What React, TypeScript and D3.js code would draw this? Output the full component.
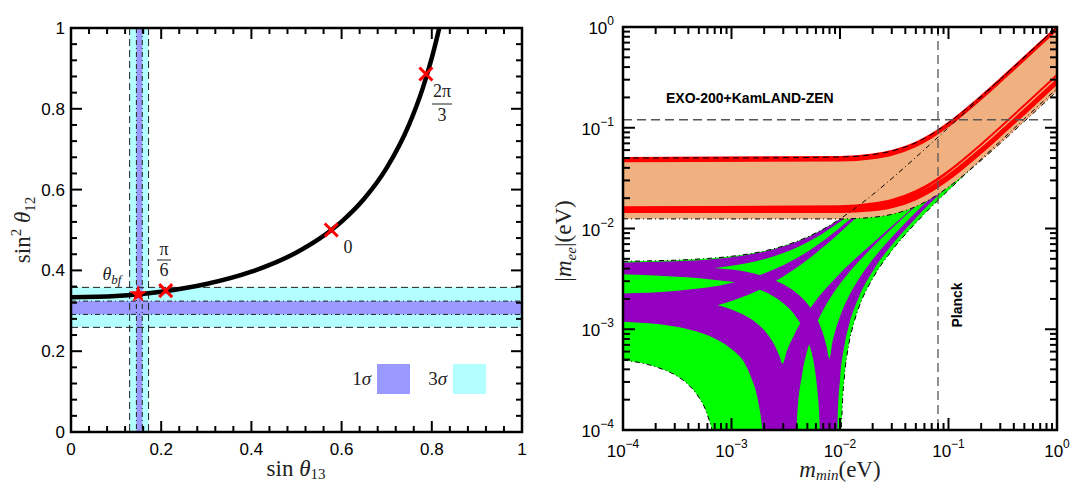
import React from "react";
import * as d3 from "d3";

// ---------------- Left panel data ----------------
const leftTickValues = [0, 0.2, 0.4, 0.6, 0.8, 1];
const leftTickLabels = ["0", "0.2", "0.4", "0.6", "0.8", "1"];
const curveSinT13 = [0, 0.1, 0.2, 0.3, 0.4, 0.5, 0.55, 0.6, 0.65, 0.7, 0.75, 0.78, 0.8, 0.81, 0.817];
const curveSin2T12 = [0.3333, 0.3367, 0.3472, 0.3663, 0.3968, 0.4444, 0.4779, 0.5208, 0.5772, 0.6536, 0.7619, 0.8512, 0.9259, 0.9693, 1.002];
const band13Sigma3 = [0.13, 0.172];
const band13Sigma1 = [0.145, 0.158];
const band12Sigma3 = [0.259, 0.358];
const band12Sigma1 = [0.291, 0.324];
const crossSinT13 = [0.21, 0.577, 0.787];
const crossSin2T12 = [0.35, 0.5, 0.886];
const starPoint = [0.149, 0.341];

// ---------------- Right panel data: [m_min, low, high] (eV) ----------------
const nhAllowed = [
  [1e-4, 4.95e-4, 4.72e-3], [2e-4, 4.24e-4, 4.79e-3], [3e-4, 3.53e-4, 4.85e-3], [4e-4, 2.82e-4, 4.91e-3],
  [5e-4, 2.11e-4, 4.98e-3], [6e-4, 1.41e-4, 5.04e-3], [7e-4, 7.1e-5, 5.11e-3], [7.5e-4, 3.6e-5, 5.14e-3],
  [8e-4, 0, 5.17e-3], [1e-3, 0, 5.3e-3], [2e-3, 0, 5.98e-3], [3e-3, 0, 6.7e-3], [5e-3, 0, 8.23e-3],
  [7e-3, 0, 9.87e-3], [1e-2, 0, 1.246e-2], [1.02e-2, 6.3e-5, 1.264e-2], [1.05e-2, 1.69e-4, 1.29e-2],
  [1.1e-2, 3.45e-4, 1.335e-2], [1.2e-2, 6.87e-4, 1.425e-2], [1.35e-2, 1.18e-3, 1.563e-2],
  [1.5e-2, 1.67e-3, 1.7e-2], [2e-2, 3.19e-3, 2.17e-2], [3e-2, 6.02e-3, 3.13e-2], [5e-2, 1.134e-2, 5.09e-2],
  [7e-2, 1.65e-2, 7.07e-2], [0.1, 2.4e-2, 0.1005], [0.2, 4.88e-2, 0.2003], [0.3, 7.34e-2, 0.3002],
  [0.5, 0.1226, 0.5002], [1, 0.2453, 1.0],
];
const nhBand00 = [
  [1e-4, 3.65e-3, 4.6e-3], [3e-4, 3.78e-3, 4.73e-3], [1e-3, 4.26e-3, 5.19e-3], [2e-3, 4.96e-3, 5.88e-3],
  [3e-3, 5.71e-3, 6.61e-3], [4e-3, 6.49e-3, 7.37e-3], [5e-3, 7.3e-3, 8.16e-3], [6e-3, 8.14e-3, 8.97e-3],
  [7e-3, 8.99e-3, 9.81e-3], [8e-3, 9.87e-3, 1.066e-2], [1e-2, 1.166e-2, 1.242e-2], [1.2e-2, 1.35e-2, 1.422e-2],
  [1.5e-2, 1.631e-2, 1.698e-2], [2e-2, 2.109e-2, 2.169e-2], [5e-2, 5.0e-2, 5.07e-2], [0.1, 0.1, 0.1007], [1, 0.999, 1.0],
];
const nhBand0Pi = [
  [1e-4, 1.32e-3, 2.27e-3], [3e-4, 1.45e-3, 2.4e-3], [1e-3, 1.91e-3, 2.87e-3], [2e-3, 2.6e-3, 3.58e-3],
  [3e-3, 3.34e-3, 4.32e-3], [4e-3, 4.1e-3, 5.09e-3], [5e-3, 4.89e-3, 5.88e-3], [6e-3, 5.71e-3, 6.7e-3],
  [7e-3, 6.54e-3, 7.55e-3], [8e-3, 7.4e-3, 8.41e-3], [1e-2, 9.15e-3, 1.017e-2], [1.2e-2, 1.094e-2, 1.198e-2],
  [1.5e-2, 1.367e-2, 1.475e-2], [2e-2, 1.831e-2, 1.945e-2], [3e-2, 2.77e-2, 2.9e-2], [5e-2, 4.67e-2, 4.84e-2], [1, 0.94, 0.97],
];
const nhBandPiPi = [
  [1e-4, 3.52e-3, 4.47e-3], [1e-3, 2.955e-3, 3.916e-3], [2e-3, 2.364e-3, 3.336e-3], [3e-3, 1.81e-3, 2.79e-3],
  [4e-3, 1.29e-3, 2.276e-3], [5e-3, 7.99e-4, 1.792e-3], [6e-3, 3.34e-4, 1.332e-3], [6.25e-3, 2.21e-4, 1.22e-3],
  [6.5e-3, 1.1e-4, 1.11e-3], [6.75e-3, 0, 1.0e-3], [7e-3, 0, 8.94e-4], [7.5e-3, 0, 6.82e-4], [8e-3, 0, 5.1e-4],
  [8.5e-3, 0, 7.42e-4], [9e-3, 0, 9.45e-4], [9.2e-3, 0, 1.025e-3], [9.5e-3, 1.24e-4, 1.144e-3],
  [1e-2, 3.17e-4, 1.342e-3], [1.1e-2, 6.95e-4, 1.727e-3], [1.2e-2, 1.062e-3, 2.104e-3], [1.5e-2, 2.118e-3, 3.192e-3],
  [2e-2, 3.771e-3, 4.912e-3], [3e-2, 6.876e-3, 8.181e-3], [5e-2, 1.274e-2, 1.446e-2], [0.1, 2.681e-2, 2.972e-2],
  [0.3, 8.25e-2, 9.05e-2], [1, 0.273, 0.3],
];
const nhBandPi0 = [
  [1e-4, 1.19e-3, 2.14e-3], [3e-4, 1.065e-3, 2.01e-3], [1e-3, 6.37e-4, 1.571e-3], [1.5e-3, 3.43e-4, 1.269e-3],
  [1.75e-3, 1.99e-4, 1.122e-3], [1.9e-3, 1.14e-4, 1.034e-3], [2e-3, 5.8e-5, 9.76e-4], [2.1e-3, 0, 9.19e-4],
  [2.5e-3, 0, 6.91e-4], [2.75e-3, 0, 5.52e-4], [2.95e-3, 0, 4.55e-4], [3.25e-3, 0, 6.15e-4], [3.5e-3, 0, 7.43e-4],
  [3.77e-3, 0, 8.7e-4], [3.85e-3, 3.9e-5, 9.2e-4], [4e-3, 1.16e-4, 9.95e-4], [4.5e-3, 3.71e-4, 1.239e-3],
  [5e-3, 6.18e-4, 1.476e-3], [6e-3, 1.097e-3, 1.933e-3], [7e-3, 1.554e-3, 2.37e-3], [8e-3, 1.993e-3, 2.787e-3],
  [1e-2, 2.829e-3, 3.584e-3], [1.2e-2, 3.622e-3, 4.339e-3], [1.5e-2, 4.754e-3, 5.423e-3], [2e-2, 6.553e-3, 7.154e-3],
  [3e-2, 1.0e-2, 1.05e-2], [5e-2, 1.672e-2, 1.708e-2], [0.1, 3.338e-2, 3.358e-2], [1, 0.333, 0.334],
];
const ihAllowed = [
  [1e-4, 0.01247, 0.05014], [1e-3, 0.01244, 0.05016], [1e-2, 0.01244, 0.05126], [2e-2, 0.01291, 0.05419],
  [3e-2, 0.01381, 0.05868], [5e-2, 0.01651, 0.07105], [7e-2, 0.01995, 0.08632], [0.1, 0.02582, 0.11205],
  [0.2, 0.04745, 0.20629], [0.3, 0.06996, 0.30423], [0.5, 0.11555, 0.50256], [1, 0.2302, 1.0013],
];
const ihRedTop = [
  [1e-4, 0.04651, 0.05014], [1e-2, 0.04721, 0.05126], [2e-2, 0.04979, 0.05419], [3e-2, 0.05396, 0.05868],
  [5e-2, 0.06569, 0.07105], [7e-2, 0.08019, 0.08632], [0.1, 0.10455, 0.11205], [0.2, 0.19346, 0.20629],
  [0.3, 0.28564, 0.30423], [0.5, 0.47213, 0.50256], [1, 0.94092, 1.0013],
];
const ihRedLow0 = [
  [1e-4, 0.014546, 0.016152], [1e-2, 0.015156, 0.016623], [2e-2, 0.016358, 0.017679], [3e-2, 0.018057, 0.019236],
  [5e-2, 0.022513, 0.023448], [7e-2, 0.027836, 0.028591], [0.1, 0.036638, 0.037213], [0.2, 0.068385, 0.068693],
  [0.3, 0.101154, 0.101361], [0.5, 0.167362, 0.167488], [1, 0.333679, 0.333742],
];
const ihRedLowPi = [
  [1e-4, 0.01454, 0.016148], [1e-2, 0.014554, 0.016291], [2e-2, 0.015154, 0.017015], [3e-2, 0.016251, 0.01824],
  [5e-2, 0.019503, 0.021788], [7e-2, 0.023622, 0.026267], [0.1, 0.030618, 0.033893], [0.2, 0.056345, 0.062053],
  [0.3, 0.083094, 0.091401], [0.5, 0.137262, 0.150888], [1, 0.273479, 0.300542],
];
const exoLimit = 0.12;
const planckLimit = 0.08;
const rightDecades = [1e-4, 1e-3, 1e-2, 1e-1, 1];
const rightExponents = ["\u22124", "\u22123", "\u22122", "\u22121", "0"];

const SERIF = "'Liberation Serif', 'DejaVu Serif', serif";
const SANS = "'Liberation Sans', Arial, sans-serif";

export default function App() {
  const xL = d3.scaleLinear().domain([0, 1]).range([71, 522]);
  const yL = d3.scaleLinear().domain([0, 1]).range([432, 28]);
  const xR = d3.scaleLog().domain([1e-4, 1]).range([623, 1057]);
  const yR = d3.scaleLog().domain([1e-4, 1]).range([430, 27]);
  const cl = (v: number) => Math.max(v, 1e-6);

  const area = d3
    .area<number[]>()
    .x((d) => xR(d[0]))
    .y0((d) => yR(cl(d[1])))
    .y1((d) => yR(cl(d[2])))
    .curve(d3.curveMonotoneX);
  const loLine = d3.line<number[]>().x((d) => xR(d[0])).y((d) => yR(cl(d[1]))).curve(d3.curveMonotoneX);
  const hiLine = d3.line<number[]>().x((d) => xR(d[0])).y((d) => yR(cl(d[2]))).curve(d3.curveMonotoneX);

  const curvePts = curveSinT13.map((s, i) => [s, curveSin2T12[i]] as [number, number]);
  const curvePath = d3
    .line<[number, number]>()
    .x((d) => xL(d[0]))
    .y((d) => yL(d[1]))
    .curve(d3.curveMonotoneX)(curvePts);

  const leftMinor = d3.range(0, 1.0001, 0.04).filter((v) => Math.abs(v / 0.2 - Math.round(v / 0.2)) > 1e-6);
  const rightMinor = rightDecades.slice(0, -1).flatMap((d) => [2, 3, 4, 5, 6, 7, 8, 9].map((k) => k * d));

  const L = { x0: 71, x1: 522, y0: 28, y1: 432 };
  const R = { x0: 623, x1: 1057, y0: 27, y1: 430 };
  const star = d3.symbol(d3.symbolStar, 100)();
  const dashDot = "5,3,1,3";

  const ticksBox = (
    box: { x0: number; x1: number; y0: number; y1: number },
    xs: number[],
    ys: number[],
    len: number,
    keyp: string
  ) => (
    <g key={keyp} stroke="#000" strokeWidth={2}>
      {xs.map((x, i) => (
        <g key={"x" + i}>
          <line x1={x} x2={x} y1={box.y1} y2={box.y1 - len} />
          <line x1={x} x2={x} y1={box.y0} y2={box.y0 + len} />
        </g>
      ))}
      {ys.map((y, i) => (
        <g key={"y" + i}>
          <line x1={box.x0} x2={box.x0 + len} y1={y} y2={y} />
          <line x1={box.x1} x2={box.x1 - len} y1={y} y2={y} />
        </g>
      ))}
    </g>
  );

  return (
    <svg width={1072} height={483} style={{ position: "absolute", left: 0, top: 0, background: "#fff" }}>
      <defs>
        <clipPath id="clipL">
          <rect x={L.x0} y={L.y0} width={L.x1 - L.x0} height={L.y1 - L.y0} />
        </clipPath>
        <clipPath id="clipR">
          <rect x={R.x0} y={R.y0} width={R.x1 - R.x0} height={R.y1 - R.y0} />
        </clipPath>
      </defs>

      {/* ================= LEFT PANEL ================= */}
      <g clipPath="url(#clipL)">
        <rect x={L.x0} width={L.x1 - L.x0} y={yL(band12Sigma3[1])} height={yL(band12Sigma3[0]) - yL(band12Sigma3[1])} fill="#b3ffff" />
        <rect y={L.y0} height={L.y1 - L.y0} x={xL(band13Sigma3[0])} width={xL(band13Sigma3[1]) - xL(band13Sigma3[0])} fill="#b3ffff" />
        <rect x={L.x0} width={L.x1 - L.x0} y={yL(band12Sigma1[1])} height={yL(band12Sigma1[0]) - yL(band12Sigma1[1])} fill="#9999ff" />
        <rect y={L.y0} height={L.y1 - L.y0} x={xL(band13Sigma1[0])} width={xL(band13Sigma1[1]) - xL(band13Sigma1[0])} fill="#9999ff" />
        {band12Sigma3.map((v, i) => (
          <line key={"h3" + i} x1={L.x0} x2={L.x1} y1={yL(v)} y2={yL(v)} stroke="#222" strokeWidth={1} strokeDasharray="7,4" />
        ))}
        {band12Sigma1.map((v, i) => (
          <line key={"h1" + i} x1={L.x0} x2={L.x1} y1={yL(v)} y2={yL(v)} stroke="#222" strokeWidth={1} strokeDasharray={dashDot} />
        ))}
        {band13Sigma3.map((v, i) => (
          <line key={"v3" + i} y1={L.y0} y2={L.y1} x1={xL(v)} x2={xL(v)} stroke="#222" strokeWidth={1} strokeDasharray="7,4" />
        ))}
        {band13Sigma1.map((v, i) => (
          <line key={"v1" + i} y1={L.y0} y2={L.y1} x1={xL(v)} x2={xL(v)} stroke="#222" strokeWidth={1} strokeDasharray={dashDot} />
        ))}
        <path d={curvePath || ""} fill="none" stroke="#000" strokeWidth={4.5} />
        {crossSinT13.map((s, i) => (
          <path
            key={"c" + i}
            transform={`translate(${xL(s)},${yL(crossSin2T12[i])})`}
            d="M-6.5,-6.5L6.5,6.5M-6.5,6.5L6.5,-6.5"
            stroke="#f00"
            strokeWidth={3}
          />
        ))}
        <path d={star || ""} transform={`translate(${xL(starPoint[0])},${yL(starPoint[1])})`} fill="#f00" />
      </g>
      {ticksBox(L, leftTickValues.map((v) => xL(v)), leftTickValues.map((v) => yL(v)), 11, "LM")}
      {ticksBox(L, leftMinor.map((v) => xL(v)), leftMinor.map((v) => yL(v)), 6, "Lm")}
      <rect x={L.x0} y={L.y0} width={L.x1 - L.x0} height={L.y1 - L.y0} fill="none" stroke="#000" strokeWidth={2.5} />
      <g fontFamily={SANS} fontSize={17} fill="#000">
        {leftTickValues.map((v, i) => (
          <text key={"xl" + i} x={xL(v)} y={455} textAnchor="middle">{leftTickLabels[i]}</text>
        ))}
        {leftTickValues.map((v, i) => (
          <text key={"yl" + i} x={65} y={yL(v) + 6} textAnchor="end">{leftTickLabels[i]}</text>
        ))}
      </g>
      {/* annotations */}
      <g fontFamily={SERIF} fill="#222">
        <text x={112} y={280} fontSize={18} textAnchor="middle">
          <tspan fontStyle="italic">θ</tspan>
          <tspan fontStyle="italic" fontSize={13} dy={4}>bf</tspan>
        </text>
        <text x={164} y={255} fontSize={18} textAnchor="middle">π</text>
        <line x1={157} x2={171} y1={260} y2={260} stroke="#222" strokeWidth={1} />
        <text x={164} y={276} fontSize={18} textAnchor="middle">6</text>
        <text x={348} y={253} fontSize={18} textAnchor="middle">0</text>
        <text x={442} y={97} fontSize={18} textAnchor="middle">2π</text>
        <line x1={432} x2={452} y1={104} y2={104} stroke="#222" strokeWidth={1} />
        <text x={442} y={121} fontSize={18} textAnchor="middle">3</text>
        <text x={371} y={385} fontSize={19} textAnchor="end">1<tspan fontStyle="italic">σ</tspan></text>
        <text x={447} y={385} fontSize={19} textAnchor="end">3<tspan fontStyle="italic">σ</tspan></text>
      </g>
      <rect x={377} y={364} width={33} height={30} fill="#9999ff" />
      <rect x={453} y={364} width={33} height={30} fill="#b3ffff" />
      {/* axis titles */}
      <g fontFamily={SERIF} fontSize={23} fill="#222">
        <text x={296} y={476} textAnchor="middle">
          sin <tspan fontStyle="italic">θ</tspan>
          <tspan fontSize={15} dy={3}>13</tspan>
        </text>
        <text transform="translate(30,230) rotate(-90)" textAnchor="middle">
          sin<tspan fontSize={15} dy={-9}>2</tspan>
          <tspan fontStyle="italic" dy={9}> θ</tspan>
          <tspan fontSize={15} dy={5}>12</tspan>
        </text>
      </g>

      {/* ================= RIGHT PANEL ================= */}
      <g clipPath="url(#clipR)">
        <path d={area(nhAllowed) || ""} fill="#00ff00" />
        {[nhBand00, nhBand0Pi, nhBandPiPi, nhBandPi0].map((b, i) => (
          <path key={"p" + i} d={area(b) || ""} fill="#9400bf" />
        ))}
        <path d={area(ihAllowed) || ""} fill="#f0b07f" />
        {[ihRedTop, ihRedLow0, ihRedLowPi].map((b, i) => (
          <path key={"r" + i} d={area(b) || ""} fill="#ff0000" stroke="#ff0000" strokeWidth={2} />
        ))}
        <path d={hiLine(nhAllowed) || ""} fill="none" stroke="#000" strokeWidth={1} strokeDasharray={dashDot} />
        <path d={loLine(nhAllowed) || ""} fill="none" stroke="#000" strokeWidth={1} strokeDasharray={dashDot} />
        <path d={hiLine(ihAllowed) || ""} fill="none" stroke="#000" strokeWidth={1} strokeDasharray="6,4" />
        <path d={loLine(ihAllowed) || ""} fill="none" stroke="#000" strokeWidth={1} strokeDasharray={dashDot} />
        <line x1={R.x0} x2={R.x1} y1={yR(exoLimit)} y2={yR(exoLimit)} stroke="#555" strokeWidth={1.3} strokeDasharray="9,5" />
        <line x1={xR(planckLimit)} x2={xR(planckLimit)} y1={R.y0} y2={R.y1} stroke="#555" strokeWidth={1.3} strokeDasharray="9,5" />
      </g>
      {ticksBox(R, rightDecades.map((v) => xR(v)), rightDecades.map((v) => yR(v)), 12, "RM")}
      {ticksBox(R, rightMinor.map((v) => xR(v)), rightMinor.map((v) => yR(v)), 7, "Rm")}
      <rect x={R.x0} y={R.y0} width={R.x1 - R.x0} height={R.y1 - R.y0} fill="none" stroke="#000" strokeWidth={2.5} />
      <g fontFamily={SANS} fontSize={17} fill="#000">
        {rightDecades.map((v, i) => (
          <text key={"xr" + i} x={xR(v)} y={457} textAnchor="middle">
            10<tspan fontSize={12} dy={-9}>{rightExponents[i]}</tspan>
          </text>
        ))}
        {rightDecades.map((v, i) => (
          <text key={"yr" + i} x={614} y={yR(v) + 7} textAnchor="end">
            10<tspan fontSize={12} dy={-9}>{rightExponents[i]}</tspan>
          </text>
        ))}
      </g>
      <text x={666} y={103} fontFamily={SANS} fontWeight="bold" fontSize={14} fill="#000">EXO-200+KamLAND-ZEN</text>
      <text transform="translate(962,305) rotate(-90)" textAnchor="middle" fontFamily={SANS} fontWeight="bold" fontSize={14} fill="#000">
        Planck
      </text>
      <g fontFamily={SERIF} fontSize={23} fill="#222">
        <text x={840} y={477} textAnchor="middle">
          <tspan fontStyle="italic">m</tspan>
          <tspan fontStyle="italic" fontSize={15} dy={3}>min</tspan>
          <tspan dy={-3}>(eV)</tspan>
        </text>
        <text transform="translate(571,241) rotate(-90)" textAnchor="middle">
          |<tspan fontStyle="italic">m</tspan>
          <tspan fontStyle="italic" fontSize={15} dy={5}>ee</tspan>
          <tspan dy={-5}>|(eV)</tspan>
        </text>
      </g>
    </svg>
  );
}
